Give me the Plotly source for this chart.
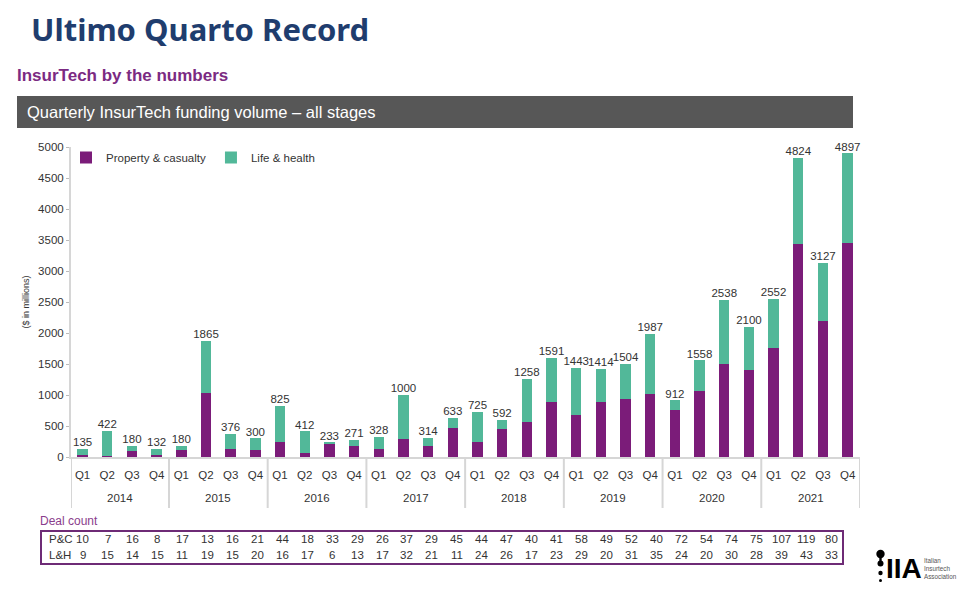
import plotly.graph_objects as go

# ---------------- data ----------------
years = ["2014", "2015", "2016", "2017", "2018", "2019", "2020", "2021"]
quarters = ["Q1", "Q2", "Q3", "Q4"]
categories = [f"{y} {q}" for y in years for q in quarters]
quarter_labels = [q for y in years for q in quarters]

totals = [135, 422, 180, 132, 180, 1865, 376, 300, 825, 412, 233, 271,
          328, 1000, 314, 633, 725, 592, 1258, 1591, 1443, 1414, 1504, 1987,
          912, 1558, 2538, 2100, 2552, 4824, 3127, 4897]
pc_values = [25, 20, 100, 25, 115, 1040, 130, 105, 250, 70, 215, 185,
             130, 290, 170, 470, 245, 450, 570, 890, 670, 890, 938, 1020,
             755, 1058, 1500, 1403, 1759, 3440, 2195, 3455]
lh_values = [110, 402, 80, 107, 65, 825, 246, 195, 575, 342, 18, 86,
             198, 710, 144, 163, 480, 142, 688, 701, 773, 524, 566, 967,
             157, 500, 1038, 697, 793, 1384, 932, 1442]

deal_pc = [10, 7, 16, 8, 17, 13, 16, 21, 44, 18, 33, 29, 26, 37, 29, 45,
           44, 47, 40, 41, 58, 49, 52, 40, 72, 54, 74, 75, 107, 119, 80]
deal_lh = [9, 15, 14, 15, 11, 19, 15, 20, 16, 17, 6, 13, 17, 32, 21, 11,
           24, 26, 17, 23, 29, 20, 31, 35, 24, 20, 30, 28, 39, 43, 33]

# ---------------- styling ----------------
OFF = 8                      # page body margin
W, H = 969 - OFF, 598 - OFF
PL, PR, PT, PB = 71, 860, 147, 457   # plot area in screen pixels
PURPLE = "#7b1c79"
TEAL = "#52b899"
TXT = "#333333"
FONT = "Liberation Sans"


def px(x):
    return (x - PL) / (PR - PL)


def py(y):
    return (PB - y) / (PB - PT)


fig = go.Figure()
fig.add_trace(go.Bar(x=categories, y=pc_values, name="Property & casualty",
                     marker=dict(color=PURPLE, line=dict(width=0))))
fig.add_trace(go.Bar(x=categories, y=lh_values, name="Life & health",
                     marker=dict(color=TEAL, line=dict(width=0))))
fig.add_trace(go.Scatter(x=categories, y=totals, mode="text",
                         text=[str(t) for t in totals],
                         textposition="top center",
                         textfont=dict(size=11.5, color=TXT, family=FONT),
                         showlegend=False, cliponaxis=False, hoverinfo="skip"))

shapes = []
annotations = []

# header
annotations.append(dict(text="<b>Ultimo Quarto Record</b>", x=px(29), y=py(29.5),
                        xref="paper", yref="paper", xanchor="left", yanchor="middle",
                        showarrow=False, font=dict(size=31, color="#1f3d6e", family="Noto Sans")))
annotations.append(dict(text="<b>InsurTech by the numbers</b>", x=px(15), y=py(75),
                        xref="paper", yref="paper", xanchor="left", yanchor="middle",
                        showarrow=False, font=dict(size=17, color="#7b2a82", family=FONT)))
shapes.append(dict(type="rect", xref="paper", yref="paper", x0=px(17), x1=px(853),
                   y0=py(96), y1=py(128), fillcolor="#575757", line=dict(width=0), layer="below"))
annotations.append(dict(text="Quarterly InsurTech funding volume \u2013 all stages", x=px(25), y=py(112),
                        xref="paper", yref="paper", xanchor="left", yanchor="middle",
                        showarrow=False, font=dict(size=16.5, color="white", family=FONT)))

# year separators and year labels
n = len(categories)
for k in range(len(years) + 1):
    xs = -0.47 if k == 0 else (4 * k - 0.5 if k < len(years) else n - 0.5)
    shapes.append(dict(type="line", xref="x", yref="paper", x0=xs, x1=xs,
                       y0=0, y1=py(508), line=dict(color="#d6d6d6", width=2)))
for k, yr in enumerate(years):
    annotations.append(dict(text=yr, x=4 * k + 1.5, y=py(498), xref="x", yref="paper",
                            showarrow=False, yanchor="middle",
                            font=dict(size=11.5, color=TXT, family=FONT)))

# deal count table
annotations.append(dict(text="Deal count", x=px(38), y=py(521), xref="paper", yref="paper",
                        xanchor="left", yanchor="middle", showarrow=False,
                        font=dict(size=12, color="#8a3d8c", family=FONT)))
shapes.append(dict(type="rect", xref="paper", yref="paper", x0=px(41), x1=px(843),
                   y0=py(531), y1=py(564), line=dict(color="#6e2b76", width=2),
                   fillcolor="rgba(0,0,0,0)"))
for label, row_y in (("P&C", 539), ("L&H", 555)):
    annotations.append(dict(text=label, x=px(47), y=py(row_y), xref="paper", yref="paper",
                            xanchor="left", yanchor="middle", showarrow=False,
                            font=dict(size=11.5, color=TXT, family=FONT)))
for i, (a, b) in enumerate(zip(deal_pc, deal_lh)):
    xpos = i * 1.011
    annotations.append(dict(text=str(a), x=xpos, y=py(539), xref="x", yref="paper",
                            showarrow=False, yanchor="middle",
                            font=dict(size=11.5, color=TXT, family=FONT)))
    annotations.append(dict(text=str(b), x=xpos, y=py(555), xref="x", yref="paper",
                            showarrow=False, yanchor="middle",
                            font=dict(size=11.5, color=TXT, family=FONT)))

# logo
shapes.append(dict(type="rect", xref="paper", yref="paper", x0=px(879.3), x1=px(881.7),
                   y0=py(564), y1=py(554), fillcolor="black", line=dict(width=0)))
for cy, r in ((554, 4.2), (563.5, 3.0), (573, 2.2), (580.5, 1.5)):
    shapes.append(dict(type="circle", xref="paper", yref="paper", x0=px(880.5 - r), x1=px(880.5 + r),
                       y0=py(cy + r), y1=py(cy - r), fillcolor="black", line=dict(width=0)))
annotations.append(dict(text="<b>IIA</b>", x=px(884), y=py(568), xref="paper", yref="paper",
                        xanchor="left", yanchor="middle", showarrow=False,
                        font=dict(size=28, color="black", family=FONT)))
annotations.append(dict(text="Italian<br>Insurtech<br>Association", x=px(922), y=py(568),
                        xref="paper", yref="paper", xanchor="left", yanchor="middle",
                        align="left", showarrow=False,
                        font=dict(size=6.3, color="#555555", family=FONT)))

fig.update_layout(
    width=W, height=H,
    margin=dict(l=PL - OFF, r=969 - PR, t=PT - OFF, b=598 - PB, pad=0),
    paper_bgcolor="white", plot_bgcolor="white",
    barmode="stack", bargap=0.58,
    font=dict(family=FONT, color=TXT, size=11.5),
    legend=dict(orientation="h", x=px(66), y=py(143), xanchor="left", yanchor="top",
                bgcolor="rgba(0,0,0,0)", font=dict(size=11.5, color=TXT),
                traceorder="normal", itemwidth=30),
    shapes=shapes, annotations=annotations,
    showlegend=True,
)
fig.update_xaxes(type="category", range=[-0.47, n - 0.5],
                 tickmode="array", tickvals=categories, ticktext=quarter_labels,
                 showline=True, linecolor="#d6d6d6", linewidth=2, ticks="",
                 tickfont=dict(size=11.5, color=TXT), showgrid=False, zeroline=False,
                 ticklabelstandoff=6)
fig.update_yaxes(range=[0, 5000], tickvals=list(range(0, 5001, 500)),
                 showline=True, linecolor="#d6d6d6", linewidth=2,
                 ticks="outside", ticklen=3, tickcolor="#bbbbbb",
                 tickfont=dict(size=11.5, color=TXT), showgrid=False, zeroline=False,
                 title=dict(text="($ in millions)", font=dict(size=9, color=TXT), standoff=7))

fig.write_html("out.html")
